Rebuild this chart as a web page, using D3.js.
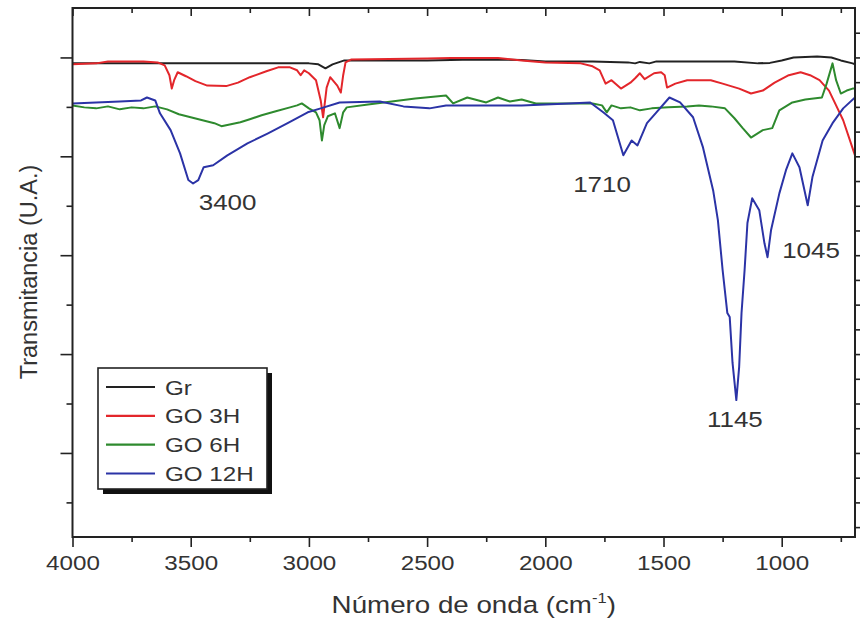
<!DOCTYPE html>
<html>
<head>
<meta charset="utf-8">
<script src="https://cdn.jsdelivr.net/npm/d3@7"></script>
<style>
  html, body { margin: 0; padding: 0; background: #fff; }
  svg { display: block; }
  text { font-family: "Liberation Sans", Arial, sans-serif; fill: #333; }
</style>
</head>
<body>
<svg id="chart" width="860" height="621"></svg>
<script>
// ---------- DATA (wavenumber cm-1, transmittance a.u.) ----------
const seriesNames = ["Gr", "GO 3H", "GO 6H", "GO 12H"];
const seriesColors = ["#222222", "#e3262b", "#2e8a2e", "#2b33a6"];

const grData = [
  [4000,78.8],[3800,78.8],[3600,78.8],[3400,78.8],[3200,78.8],[3000,78.8],[2960,78.6],[2930,77.8],
  [2900,78.6],[2850,79.4],[2700,79.4],[2500,79.4],[2300,79.6],[2100,79.5],[2000,79.2],[1800,79.2],
  [1650,79.0],[1620,78.8],[1600,79.1],[1560,78.8],[1530,79.2],[1400,79.2],[1200,79.2],[1100,78.8],
  [1050,78.9],[1000,79.4],[950,80.0],[850,80.2],[790,80.0],[750,79.4],[700,78.8],[690,78.6]
];

const go3Data = [
  [4000,78.6],[3900,78.8],[3850,79.2],[3700,79.2],[3640,79.0],[3610,78.4],[3590,76.4],[3580,73.7],
  [3570,75.4],[3555,77.0],[3520,76.2],[3480,75.2],[3430,74.3],[3350,74.2],[3300,74.9],[3250,76.0],
  [3180,77.2],[3130,78.0],[3080,78.0],[3050,77.4],[3035,76.4],[3020,77.4],[3000,76.8],[2970,75.4],
  [2950,71.3],[2940,67.9],[2925,73.9],[2910,76.0],[2880,74.3],[2865,72.9],[2855,76.4],[2845,79.0],
  [2820,79.6],[2500,79.8],[2400,79.9],[2200,79.9],[2100,79.4],[2000,79.0],[1850,78.8],[1800,78.2],
  [1770,77.4],[1745,74.7],[1720,75.4],[1680,73.7],[1640,74.9],[1620,75.8],[1600,76.8],[1580,75.6],
  [1540,76.8],[1510,77.0],[1495,76.4],[1485,73.9],[1450,74.7],[1400,75.4],[1300,75.4],[1250,74.7],
  [1180,73.7],[1130,72.7],[1080,73.3],[1030,74.9],[970,76.4],[920,77.0],[880,76.4],[840,75.4],
  [800,73.3],[770,70.3],[740,67.3],[700,61.6],[690,60.2]
];

const go6Data = [
  [4000,70.3],[3950,69.9],[3900,69.7],[3850,70.1],[3800,69.5],[3750,69.9],[3700,69.7],[3650,70.1],
  [3600,69.5],[3550,68.5],[3500,67.9],[3450,67.3],[3400,66.7],[3370,66.1],[3330,66.5],[3290,66.9],
  [3250,67.5],[3200,68.3],[3140,69.1],[3080,69.9],[3050,70.3],[3030,70.7],[3000,69.7],[2970,68.9],
  [2955,67.3],[2945,63.2],[2935,66.3],[2920,68.1],[2890,68.7],[2870,65.7],[2855,68.9],[2840,69.9],
  [2750,70.5],[2650,71.1],[2550,71.7],[2420,72.3],[2390,70.7],[2330,71.9],[2250,70.9],[2200,71.9],
  [2150,71.1],[2100,71.5],[2040,70.7],[1900,70.7],[1800,70.7],[1760,70.3],[1740,68.9],[1720,70.3],
  [1680,69.7],[1640,69.9],[1600,69.3],[1550,69.7],[1480,69.9],[1400,70.1],[1350,70.3],[1300,70.1],
  [1240,69.7],[1200,67.7],[1165,65.7],[1130,63.8],[1100,64.7],[1080,65.3],[1040,65.7],[1010,69.3],
  [955,70.9],[900,71.5],[830,71.9],[810,74.7],[785,78.8],[770,75.4],[750,72.7],[725,73.3],
  [700,73.7],[690,73.7]
];

const go12Data = [
  [4000,70.7],[3900,70.9],[3800,71.1],[3710,71.3],[3685,71.9],[3650,71.3],[3630,68.7],[3585,65.3],
  [3545,60.6],[3510,55.2],[3490,54.5],[3468,55.2],[3445,57.8],[3405,58.2],[3345,60.2],[3260,62.6],
  [3175,64.6],[3090,66.7],[3005,68.9],[2950,69.7],[2870,70.9],[2700,71.1],[2600,70.1],[2490,69.7],
  [2420,70.3],[2300,70.3],[2100,70.3],[1900,70.7],[1810,70.9],[1755,68.9],[1714,67.3],[1670,60.2],
  [1635,63.2],[1610,62.2],[1570,66.7],[1530,68.9],[1475,71.9],[1430,70.9],[1375,67.9],[1333,61.8],
  [1290,53.1],[1270,47.1],[1250,37.0],[1230,28.3],[1220,27.5],[1208,18.2],[1192,10.7],[1180,17.4],
  [1170,28.3],[1157,37.0],[1145,46.5],[1125,51.5],[1095,49.1],[1073,42.4],[1060,39.6],[1045,45.1],
  [1010,52.5],[982,57.2],[955,60.6],[925,57.8],[890,50.1],[870,55.8],[827,63.2],[785,66.7],
  [740,69.7],[690,71.9]
];

const allSeries = [grData, go3Data, go6Data, go12Data];

const xMajorTicks = [4000, 3500, 3000, 2500, 2000, 1500, 1000];
const xMinorTicks = [3750, 3250, 2750, 2250, 1750, 1250, 750];
const yMajorTicks = [0, 20, 40, 60, 80];
const yMinorTicks = [-10, 10, 30, 50, 70];
const yRightTicks = d3.range(-15, 90, 5);

// Peak annotations: label text, anchor wavenumber, anchor value (text baseline)
const peakLabels = ["3400", "1710", "1145", "1045"];
const peakWave = [3344, 1760, 1198, 876];
const peakVal = [49.1, 52.8, 5.3, 39.4];

// ---------- LAYOUT ----------
const svg = d3.select("#chart");
const L = 72.5, R = 855, T = 8, B = 537;
const SX = 1.18; // horizontal text stretch

const x = d3.scaleLinear().domain([4000, 690]).range([L, R]);
const y = d3.scaleLinear().domain([-17, 90]).range([B, T]);

svg.append("defs").append("clipPath").attr("id", "clip")
  .append("rect").attr("x", L).attr("y", T).attr("width", R - L).attr("height", B - T);

// Lines
const line = d3.line().x(d => x(d[0])).y(d => y(d[1])).curve(d3.curveLinear);
const gLines = svg.append("g").attr("clip-path", "url(#clip)");
allSeries.forEach((s, i) => {
  gLines.append("path").datum(s)
    .attr("fill", "none")
    .attr("stroke", seriesColors[i])
    .attr("stroke-width", 2)
    .attr("stroke-linejoin", "round")
    .attr("d", line);
});

// Axes
function styleAxis(g) {
  g.select(".domain").remove();
  g.selectAll(".tick line").attr("stroke", "#222").attr("stroke-width", 1.6);
}
const gxB = svg.append("g").attr("transform", `translate(0,${B})`)
  .call(d3.axisBottom(x).tickValues(xMajorTicks).tickSize(10).tickFormat(d3.format("d")));
styleAxis(gxB);
gxB.selectAll(".tick text")
  .attr("y", 33).attr("dy", 0)
  .attr("transform", `scale(${SX},1)`)
  .attr("font-size", 20.5)
  .attr("fill", "#333")
  .attr("font-family", '"Liberation Sans", Arial, sans-serif');
const gxBm = svg.append("g").attr("transform", `translate(0,${B})`)
  .call(d3.axisBottom(x).tickValues(xMinorTicks).tickSize(5).tickFormat(""));
styleAxis(gxBm);
const gxT = svg.append("g").attr("transform", `translate(0,${T})`)
  .call(d3.axisBottom(x).tickValues(xMajorTicks).tickSize(8).tickFormat(""));
styleAxis(gxT);
const gxTm = svg.append("g").attr("transform", `translate(0,${T})`)
  .call(d3.axisBottom(x).tickValues(xMinorTicks).tickSize(5).tickFormat(""));
styleAxis(gxTm);
const gyL = svg.append("g").attr("transform", `translate(${L},0)`)
  .call(d3.axisLeft(y).tickValues(yMajorTicks).tickSize(12).tickFormat(""));
styleAxis(gyL);
const gyLm = svg.append("g").attr("transform", `translate(${L},0)`)
  .call(d3.axisLeft(y).tickValues(yMinorTicks).tickSize(6).tickFormat(""));
styleAxis(gyLm);
const gyR = svg.append("g").attr("transform", `translate(${R},0)`)
  .call(d3.axisRight(y).tickValues(yRightTicks).tickSize(7).tickFormat(""));
styleAxis(gyR);

// Frame
svg.append("rect").attr("x", L).attr("y", T).attr("width", R - L).attr("height", B - T)
  .attr("fill", "none").attr("stroke", "#222").attr("stroke-width", 2);

// Axis titles
const xt = svg.append("text")
  .attr("transform", `translate(${(L + R) / 2 + 10},613) scale(${SX},1)`)
  .attr("text-anchor", "middle").attr("font-size", 23.5);
xt.append("tspan").text("Número de onda (cm");
xt.append("tspan").attr("font-size", 14).attr("dy", -10).text("-1");
xt.append("tspan").attr("dy", 10).text(")");

svg.append("text")
  .attr("transform", `translate(37,272) rotate(-90)`)
  .attr("text-anchor", "middle").attr("font-size", 23.5)
  .text("Transmitancia (U.A.)");

// Peak labels
peakLabels.forEach((lab, i) => {
  svg.append("text")
    .attr("transform", `translate(${x(peakWave[i])},${y(peakVal[i])}) scale(${SX},1)`)
    .attr("text-anchor", "middle").attr("font-size", 22)
    .text(lab);
});

// Legend
const lgX = 98, lgY = 368, lgW = 169, lgH = 121;
svg.append("rect").attr("x", lgX + 5).attr("y", lgY + 5).attr("width", lgW).attr("height", lgH)
  .attr("fill", "#111");
svg.append("rect").attr("x", lgX).attr("y", lgY).attr("width", lgW).attr("height", lgH)
  .attr("fill", "#fff").attr("stroke", "#222").attr("stroke-width", 1.6);
const legendItemY = d3.scaleLinear().domain([0, 3]).range([lgY + 19, lgY + 105.5]);
seriesNames.forEach((name, i) => {
  const yy = legendItemY(i);
  svg.append("line").attr("x1", lgX + 8).attr("x2", lgX + 57).attr("y1", yy).attr("y2", yy)
    .attr("stroke", seriesColors[i]).attr("stroke-width", 2.2);
  svg.append("text")
    .attr("transform", `translate(${lgX + 67},${yy + 7.5}) scale(${SX},1)`)
    .attr("font-size", 20.5)
    .text(name);
});
</script>
</body>
</html>
